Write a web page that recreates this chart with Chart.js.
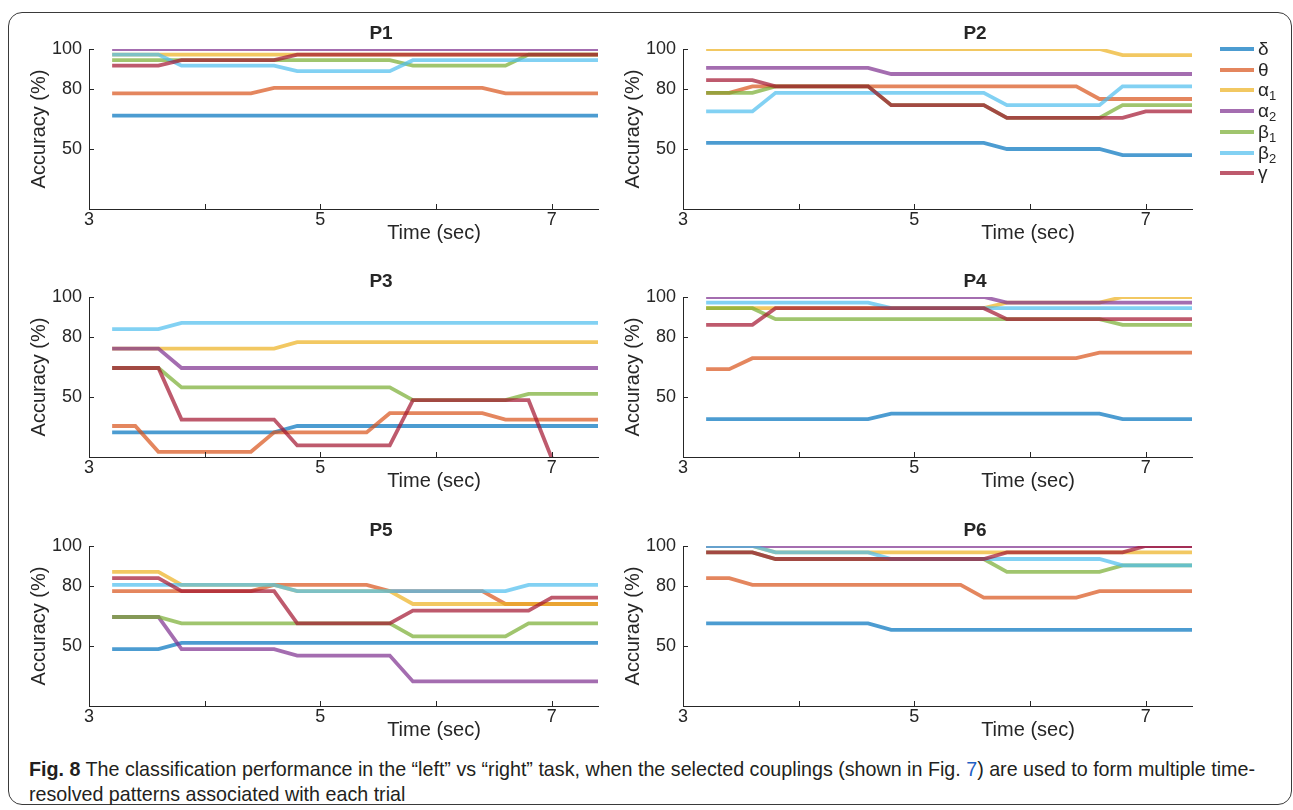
<!DOCTYPE html>
<html>
<head>
<meta charset="utf-8">
<script src="https://cdn.jsdelivr.net/npm/chart.js@4.4.1/dist/chart.umd.min.js"></script>
<style>
  html, body { margin: 0; padding: 0; background: #fff; }
  #page { position: relative; width: 1293px; height: 810px; overflow: hidden; font-family: "Liberation Sans", Arial, sans-serif; }
  #frame { position: absolute; left: 8px; top: 12px; width: 1284px; height: 793px; border: 1.5px solid #3a3a3a; border-radius: 14px; box-sizing: border-box; }
  canvas.panel { position: absolute; }
  .leg { position: absolute; left: 1220px; height: 22px; font-size: 19px; color: #262626; white-space: nowrap; }
  .leg .sw { position: absolute; left: 0; top: 9px; width: 34px; height: 4px; }
  .leg .tx { position: absolute; left: 38px; top: 0; line-height: 22px; }
  .leg sub { font-size: 13px; vertical-align: -4px; line-height: 0; }
  #caption { position: absolute; left: 29px; top: 756px; font-family: "Liberation Sans Narrow", "Liberation Sans", Arial, sans-serif; font-size: 21px; line-height: 25px; color: #231f20; white-space: nowrap; transform-origin: 0 0; }
  #caption b { font-weight: bold; }
  #caption .ref { color: #1f5fc4; }
</style>
</head>
<body>
<div id="page">
  <div id="frame"></div>
  <canvas class="panel" id="c1" width="596" height="230" style="left:14px;top:19px"></canvas>
  <canvas class="panel" id="c2" width="596" height="230" style="left:608px;top:19px"></canvas>
  <canvas class="panel" id="c3" width="596" height="230" style="left:14px;top:267px"></canvas>
  <canvas class="panel" id="c4" width="596" height="230" style="left:608px;top:267px"></canvas>
  <canvas class="panel" id="c5" width="596" height="230" style="left:14px;top:516px"></canvas>
  <canvas class="panel" id="c6" width="596" height="230" style="left:608px;top:516px"></canvas>
  <div id="legend"></div>
  <div id="caption"><span id="cap1"><b>Fig. 8</b> The classification performance in the “left” vs “right” task, when the selected couplings (shown in Fig. <span class="ref">7</span>) are used to form multiple time-</span><br>resolved patterns associated with each trial</div>
</div>
<script>
// time windows (sec)
const times = [3.2, 3.4, 3.6, 3.8, 4.0, 4.2, 4.4, 4.6, 4.8, 5.0, 5.2, 5.4, 5.6, 5.8, 6.0, 6.2, 6.4, 6.6, 6.8, 7.0, 7.2, 7.4];

const bandNames = ['δ', 'θ', 'α', 'α', 'β', 'β', 'γ'];
const bandSubs = ['', '', '1', '2', '1', '2', ''];
const bandColors = [
  'rgba(0,114,189,0.7)',
  'rgba(217,83,25,0.7)',
  'rgba(237,177,32,0.7)',
  'rgba(126,47,142,0.7)',
  'rgba(119,172,48,0.7)',
  'rgba(77,190,238,0.7)',
  'rgba(162,20,47,0.7)'
];

const xTicks = [3, 4, 5, 6, 7];
const xTickLabels = ['3', '', '5', '', '7'];
const yTicks = [100, 80, 50];

const panelTitles = ['P1', 'P2', 'P3', 'P4', 'P5', 'P6'];

// accuracy (%) per band, rows: δ, θ, α1, α2, β1, β2, γ
const P1 = [
  [66.7, 66.7, 66.7, 66.7, 66.7, 66.7, 66.7, 66.7, 66.7, 66.7, 66.7, 66.7, 66.7, 66.7, 66.7, 66.7, 66.7, 66.7, 66.7, 66.7, 66.7, 66.7],
  [77.8, 77.8, 77.8, 77.8, 77.8, 77.8, 77.8, 80.6, 80.6, 80.6, 80.6, 80.6, 80.6, 80.6, 80.6, 80.6, 80.6, 77.8, 77.8, 77.8, 77.8, 77.8],
  [97.2, 97.2, 97.2, 97.2, 97.2, 97.2, 97.2, 97.2, 97.2, 97.2, 97.2, 97.2, 97.2, 97.2, 97.2, 97.2, 97.2, 97.2, 97.2, 97.2, 97.2, 97.2],
  [100, 100, 100, 100, 100, 100, 100, 100, 100, 100, 100, 100, 100, 100, 100, 100, 100, 100, 100, 100, 100, 100],
  [94.4, 94.4, 94.4, 94.4, 94.4, 94.4, 94.4, 94.4, 94.4, 94.4, 94.4, 94.4, 94.4, 91.7, 91.7, 91.7, 91.7, 91.7, 97.2, 97.2, 97.2, 97.2],
  [97.2, 97.2, 97.2, 91.7, 91.7, 91.7, 91.7, 91.7, 88.9, 88.9, 88.9, 88.9, 88.9, 94.4, 94.4, 94.4, 94.4, 94.4, 94.4, 94.4, 94.4, 94.4],
  [91.7, 91.7, 91.7, 94.4, 94.4, 94.4, 94.4, 94.4, 97.2, 97.2, 97.2, 97.2, 97.2, 97.2, 97.2, 97.2, 97.2, 97.2, 97.2, 97.2, 97.2, 97.2]
];

const P2 = [
  [53.1, 53.1, 53.1, 53.1, 53.1, 53.1, 53.1, 53.1, 53.1, 53.1, 53.1, 53.1, 53.1, 50, 50, 50, 50, 50, 46.9, 46.9, 46.9, 46.9],
  [78.1, 78.1, 81.3, 81.3, 81.3, 81.3, 81.3, 81.3, 81.3, 81.3, 81.3, 81.3, 81.3, 81.3, 81.3, 81.3, 81.3, 75, 75, 75, 75, 75],
  [100, 100, 100, 100, 100, 100, 100, 100, 100, 100, 100, 100, 100, 100, 100, 100, 100, 100, 96.9, 96.9, 96.9, 96.9],
  [90.6, 90.6, 90.6, 90.6, 90.6, 90.6, 90.6, 90.6, 87.5, 87.5, 87.5, 87.5, 87.5, 87.5, 87.5, 87.5, 87.5, 87.5, 87.5, 87.5, 87.5, 87.5],
  [78.1, 78.1, 78.1, 81.3, 81.3, 81.3, 81.3, 81.3, 71.9, 71.9, 71.9, 71.9, 71.9, 65.6, 65.6, 65.6, 65.6, 65.6, 71.9, 71.9, 71.9, 71.9],
  [68.8, 68.8, 68.8, 78.1, 78.1, 78.1, 78.1, 78.1, 78.1, 78.1, 78.1, 78.1, 78.1, 71.9, 71.9, 71.9, 71.9, 71.9, 81.3, 81.3, 81.3, 81.3],
  [84.4, 84.4, 84.4, 81.3, 81.3, 81.3, 81.3, 81.3, 71.9, 71.9, 71.9, 71.9, 71.9, 65.6, 65.6, 65.6, 65.6, 65.6, 65.6, 68.8, 68.8, 68.8]
];

const P3 = [
  [32.3, 32.3, 32.3, 32.3, 32.3, 32.3, 32.3, 32.3, 35.5, 35.5, 35.5, 35.5, 35.5, 35.5, 35.5, 35.5, 35.5, 35.5, 35.5, 35.5, 35.5, 35.5],
  [35.5, 35.5, 22.6, 22.6, 22.6, 22.6, 22.6, 32.3, 32.3, 32.3, 32.3, 32.3, 41.9, 41.9, 41.9, 41.9, 41.9, 38.7, 38.7, 38.7, 38.7, 38.7],
  [74.2, 74.2, 74.2, 74.2, 74.2, 74.2, 74.2, 74.2, 77.4, 77.4, 77.4, 77.4, 77.4, 77.4, 77.4, 77.4, 77.4, 77.4, 77.4, 77.4, 77.4, 77.4],
  [74.2, 74.2, 74.2, 64.5, 64.5, 64.5, 64.5, 64.5, 64.5, 64.5, 64.5, 64.5, 64.5, 64.5, 64.5, 64.5, 64.5, 64.5, 64.5, 64.5, 64.5, 64.5],
  [64.5, 64.5, 64.5, 54.8, 54.8, 54.8, 54.8, 54.8, 54.8, 54.8, 54.8, 54.8, 54.8, 48.4, 48.4, 48.4, 48.4, 48.4, 51.6, 51.6, 51.6, 51.6],
  [83.9, 83.9, 83.9, 87.1, 87.1, 87.1, 87.1, 87.1, 87.1, 87.1, 87.1, 87.1, 87.1, 87.1, 87.1, 87.1, 87.1, 87.1, 87.1, 87.1, 87.1, 87.1],
  [64.5, 64.5, 64.5, 38.7, 38.7, 38.7, 38.7, 38.7, 25.8, 25.8, 25.8, 25.8, 25.8, 48.4, 48.4, 48.4, 48.4, 48.4, 48.4, 19.4, 16.1, 16.1]
];

const P4 = [
  [38.9, 38.9, 38.9, 38.9, 38.9, 38.9, 38.9, 38.9, 41.7, 41.7, 41.7, 41.7, 41.7, 41.7, 41.7, 41.7, 41.7, 41.7, 38.9, 38.9, 38.9, 38.9],
  [63.9, 63.9, 69.4, 69.4, 69.4, 69.4, 69.4, 69.4, 69.4, 69.4, 69.4, 69.4, 69.4, 69.4, 69.4, 69.4, 69.4, 72.2, 72.2, 72.2, 72.2, 72.2],
  [94.4, 94.4, 94.4, 94.4, 94.4, 94.4, 94.4, 94.4, 94.4, 94.4, 94.4, 94.4, 94.4, 97.2, 97.2, 97.2, 97.2, 97.2, 100, 100, 100, 100],
  [100, 100, 100, 100, 100, 100, 100, 100, 100, 100, 100, 100, 100, 97.2, 97.2, 97.2, 97.2, 97.2, 97.2, 97.2, 97.2, 97.2],
  [94.4, 94.4, 94.4, 88.9, 88.9, 88.9, 88.9, 88.9, 88.9, 88.9, 88.9, 88.9, 88.9, 88.9, 88.9, 88.9, 88.9, 88.9, 86.1, 86.1, 86.1, 86.1],
  [97.2, 97.2, 97.2, 97.2, 97.2, 97.2, 97.2, 97.2, 94.4, 94.4, 94.4, 94.4, 94.4, 94.4, 94.4, 94.4, 94.4, 94.4, 94.4, 94.4, 94.4, 94.4],
  [86.1, 86.1, 86.1, 94.4, 94.4, 94.4, 94.4, 94.4, 94.4, 94.4, 94.4, 94.4, 94.4, 88.9, 88.9, 88.9, 88.9, 88.9, 88.9, 88.9, 88.9, 88.9]
];

const P5 = [
  [48.4, 48.4, 48.4, 51.6, 51.6, 51.6, 51.6, 51.6, 51.6, 51.6, 51.6, 51.6, 51.6, 51.6, 51.6, 51.6, 51.6, 51.6, 51.6, 51.6, 51.6, 51.6],
  [77.4, 77.4, 77.4, 77.4, 77.4, 77.4, 77.4, 80.6, 80.6, 80.6, 80.6, 80.6, 77.4, 77.4, 77.4, 77.4, 77.4, 71.0, 71.0, 71.0, 71.0, 71.0],
  [87.1, 87.1, 87.1, 80.6, 80.6, 80.6, 80.6, 80.6, 77.4, 77.4, 77.4, 77.4, 77.4, 71.0, 71.0, 71.0, 71.0, 71.0, 71.0, 71.0, 71.0, 71.0],
  [64.5, 64.5, 64.5, 48.4, 48.4, 48.4, 48.4, 48.4, 45.2, 45.2, 45.2, 45.2, 45.2, 32.3, 32.3, 32.3, 32.3, 32.3, 32.3, 32.3, 32.3, 32.3],
  [64.5, 64.5, 64.5, 61.3, 61.3, 61.3, 61.3, 61.3, 61.3, 61.3, 61.3, 61.3, 61.3, 54.8, 54.8, 54.8, 54.8, 54.8, 61.3, 61.3, 61.3, 61.3],
  [80.6, 80.6, 80.6, 80.6, 80.6, 80.6, 80.6, 80.6, 77.4, 77.4, 77.4, 77.4, 77.4, 77.4, 77.4, 77.4, 77.4, 77.4, 80.6, 80.6, 80.6, 80.6],
  [83.9, 83.9, 83.9, 77.4, 77.4, 77.4, 77.4, 77.4, 61.3, 61.3, 61.3, 61.3, 61.3, 67.7, 67.7, 67.7, 67.7, 67.7, 67.7, 74.2, 74.2, 74.2]
];

const P6 = [
  [61.3, 61.3, 61.3, 61.3, 61.3, 61.3, 61.3, 61.3, 58.1, 58.1, 58.1, 58.1, 58.1, 58.1, 58.1, 58.1, 58.1, 58.1, 58.1, 58.1, 58.1, 58.1],
  [83.9, 83.9, 80.6, 80.6, 80.6, 80.6, 80.6, 80.6, 80.6, 80.6, 80.6, 80.6, 74.2, 74.2, 74.2, 74.2, 74.2, 77.4, 77.4, 77.4, 77.4, 77.4],
  [100, 100, 100, 96.8, 96.8, 96.8, 96.8, 96.8, 96.8, 96.8, 96.8, 96.8, 96.8, 96.8, 96.8, 96.8, 96.8, 96.8, 96.8, 96.8, 96.8, 96.8],
  [100, 100, 100, 100, 100, 100, 100, 100, 100, 100, 100, 100, 100, 100, 100, 100, 100, 100, 100, 100, 100, 100],
  [96.8, 96.8, 96.8, 93.5, 93.5, 93.5, 93.5, 93.5, 93.5, 93.5, 93.5, 93.5, 93.5, 87.1, 87.1, 87.1, 87.1, 87.1, 90.3, 90.3, 90.3, 90.3],
  [100, 100, 100, 96.8, 96.8, 96.8, 96.8, 96.8, 93.5, 93.5, 93.5, 93.5, 93.5, 93.5, 93.5, 93.5, 93.5, 93.5, 90.3, 90.3, 90.3, 90.3],
  [96.8, 96.8, 96.8, 93.5, 93.5, 93.5, 93.5, 93.5, 93.5, 93.5, 93.5, 93.5, 93.5, 96.8, 96.8, 96.8, 96.8, 96.8, 96.8, 100, 100, 100]
];

const panels = [P1, P2, P3, P4, P5, P6];

const axisColor = '#262626';
const fontFamily = '"Liberation Sans", Arial, Helvetica, sans-serif';

// MATLAB-like inward ticks, panel title and x label
const panelDecor = {
  id: 'panelDecor',
  afterDraw(chart, args, opts) {
    const { ctx, chartArea: a, scales: { x, y } } = chart;
    ctx.save();
    ctx.strokeStyle = axisColor;
    ctx.lineWidth = 1;
    ctx.beginPath();
    xTicks.forEach(v => {
      const px = Math.round(x.getPixelForValue(v)) + 0.5;
      ctx.moveTo(px, a.bottom);
      ctx.lineTo(px, a.bottom - 5);
    });
    yTicks.forEach(v => {
      const py = Math.round(y.getPixelForValue(v)) + 0.5;
      ctx.moveTo(a.left, py);
      ctx.lineTo(a.left + 5, py);
    });
    ctx.stroke();
    ctx.fillStyle = axisColor;
    ctx.textAlign = 'center';
    ctx.textBaseline = 'middle';
    ctx.font = 'bold 19px ' + fontFamily;
    ctx.fillText(opts.title, a.left + 292, a.top - 15);
    ctx.font = '20px ' + fontFamily;
    ctx.fillText('Time (sec)', a.left + 345, a.bottom + 24);
    ctx.restore();
  }
};

panels.forEach((rows, p) => {
  const ctx = document.getElementById('c' + (p + 1)).getContext('2d');
  new Chart(ctx, {
    type: 'line',
    data: {
      datasets: rows.map((vals, i) => ({
        label: bandNames[i] + bandSubs[i],
        data: times.map((t, j) => ({ x: t, y: vals[j] })),
        borderColor: bandColors[i],
        borderWidth: 3.8,
        pointRadius: 0,
        tension: 0,
        fill: false,
        order: rows.length - i,
      })),
    },
    options: {
      responsive: false,
      animation: false,
      events: [],
      layout: { padding: { left: 0, top: 30, right: 12, bottom: 0 }, autoPadding: false },
      plugins: {
        legend: { display: false },
        tooltip: { enabled: false },
        title: { display: false },
        panelDecor: { title: panelTitles[p] },
      },
      scales: {
        x: {
          type: 'linear',
          min: 3,
          max: 7.4,
          afterFit: s => { s.height = 40; },
          afterBuildTicks: s => { s.ticks = xTicks.map(v => ({ value: v })); },
          ticks: {
            callback: (v, i) => xTickLabels[i],
            padding: 0,
            maxRotation: 0,
            autoSkip: false,
            color: axisColor,
            font: { family: fontFamily, size: 18 },
          },
          grid: { display: false, drawTicks: false },
          border: { display: true, color: axisColor, width: 1 },
        },
        y: {
          min: 20,
          max: 100,
          afterFit: s => { s.width = 75; },
          afterBuildTicks: s => { s.ticks = yTicks.map(v => ({ value: v })); },
          ticks: {
            padding: 7,
            color: axisColor,
            font: { family: fontFamily, size: 18 },
          },
          grid: { display: false, drawTicks: false },
          border: { display: true, color: axisColor, width: 1 },
          title: {
            display: true,
            text: 'Accuracy (%)',
            color: axisColor,
            font: { family: fontFamily, size: 20 },
            padding: { top: 13, bottom: 0 },
          },
        },
      },
    },
    plugins: [panelDecor],
  });
});

// legend
const legendTops = [38, 59, 79, 100, 121, 142, 162];
const legend = document.getElementById('legend');
bandNames.forEach((n, i) => {
  const item = document.createElement('div');
  item.className = 'leg';
  item.style.top = legendTops[i] + 'px';
  item.innerHTML = '<div class="sw" style="background:' + bandColors[i] + '"></div><div class="tx">' + n + (bandSubs[i] ? '<sub>' + bandSubs[i] + '</sub>' : '') + '</div>';
  legend.appendChild(item);
});

// squeeze the caption horizontally so its first line spans the reference width
const cap = document.getElementById('caption');
const w1 = document.getElementById('cap1').getBoundingClientRect().width;
cap.style.transform = 'scaleX(' + (1226 / w1).toFixed(4) + ')';
</script>
</body>
</html>
